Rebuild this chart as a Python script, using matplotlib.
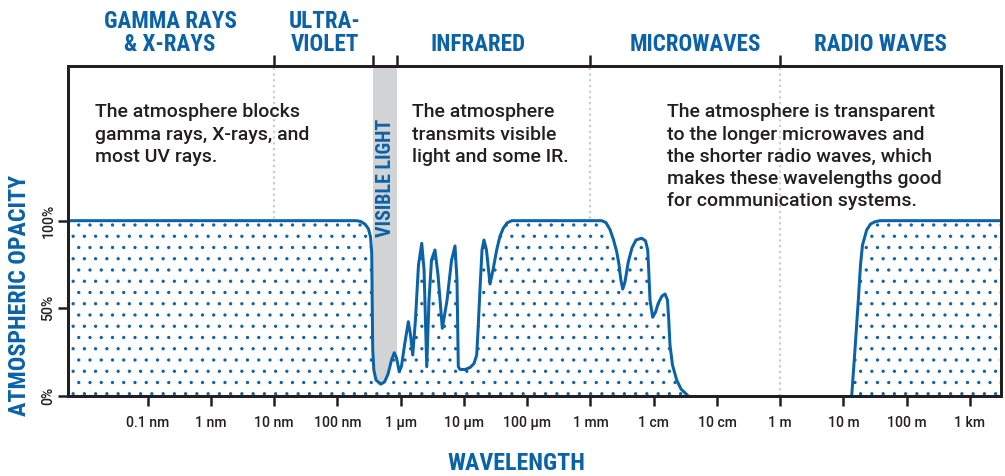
import matplotlib
matplotlib.use('Agg')
import matplotlib.pyplot as plt
import matplotlib.transforms as mtransforms
import numpy as np

# wavelength (m) and atmospheric opacity (%)
# opaque part from gamma rays up to the microwave window
wl_short = [1e-12, 2.01e-7, 2.35e-7, 2.73e-7, 3.08e-7, 3.33e-7, 3.48e-7, 3.54e-7,
            3.61e-7, 3.76e-7, 4.07e-7, 4.83e-7, 5.55e-7, 6.30e-7, 7.15e-7, 7.92e-7,
            8.58e-7, 9.50e-7, 1.03e-6, 1.15e-6, 1.32e-6, 1.43e-6, 1.55e-6, 1.71e-6,
            1.91e-6, 2.15e-6, 2.34e-6, 2.58e-6, 2.80e-6, 3.07e-6, 3.48e-6, 3.89e-6,
            4.55e-6, 5.40e-6, 6.36e-6, 7.22e-6, 7.76e-6, 8.14e-6, 8.66e-6, 1.04e-5,
            1.25e-5, 1.44e-5, 1.59e-5, 1.67e-5, 1.79e-5, 1.93e-5, 2.07e-5, 2.27e-5,
            2.58e-5, 2.88e-5, 3.29e-5, 3.72e-5, 4.19e-5, 4.79e-5, 5.69e-5,
            1.51e-3, 1.76e-3, 2.04e-3, 2.31e-3, 2.60e-3, 2.83e-3, 3.02e-3, 3.24e-3,
            3.52e-3, 3.97e-3, 4.54e-3, 5.25e-3, 6.46e-3, 7.42e-3, 8.04e-3, 8.34e-3,
            8.74e-3, 9.64e-3, 1.07e-2, 1.18e-2, 1.35e-2, 1.51e-2, 1.65e-2, 1.73e-2,
            1.81e-2, 1.98e-2, 2.31e-2, 2.70e-2, 3.52e-2]
op_short = [100, 100, 99.5, 98, 95.4, 90.9, 81.7, 54.8,
            26.2, 14.8, 9.1, 6.8, 8.0, 12.5, 20.5, 24.7,
            21.7, 13.9, 17.1, 29.1, 42.4, 34.8, 23.4, 43.4,
            74.7, 87.1, 71.9, 16.7, 54.8, 77.6, 83.3, 69.0,
            38.6, 54.6, 77.4, 85.6, 66.2, 16.7, 15.2, 15.1,
            16.3, 18.5, 23.4, 37.7, 60.5, 83.3, 89.0, 83.3,
            63.9, 71.9, 83.3, 91.3, 95.7, 98.7, 100,
            100, 98.9, 94.9, 89.2, 82.3, 74.9, 66.4, 61.0,
            65.2, 76.6, 84.5, 89.0, 90.0, 88.5, 83.3, 71.9,
            54.8, 44.9, 47.9, 52.9, 57.0, 58.2, 54.8, 43.4,
            29.1, 17.7, 9.1, 4.0, 0]
# opaque again for the long radio waves
wl_long = [13.5, 15.2, 17.2, 18.6, 20.0, 23.3, 26.8, 31.5, 37.8, 1e4]
op_long = [0, 26.2, 54.8, 74.7, 86.1, 94.7, 98.1, 99.4, 100, 100]

tick_pos = [1e-10, 1e-9, 1e-8, 1e-7, 1e-6, 1e-5, 1e-4, 1e-3, 1e-2, 1e-1, 1e0, 1e1, 1e2, 1e3]
tick_labels = ['0.1 nm', '1 nm', '10 nm', '100 nm', '1 µm', '10 µm', '100 µm',
               '1 mm', '1 cm', '10 cm', '1 m', '10 m', '100 m', '1 km']

# band borders on the top edge
band_edges = [1e-8, 3.69e-7, 8.74e-7, 1e-3, 1e0]
divider_lines = [1e-8, 1e-3, 1e0]
visible = (3.69e-7, 8.74e-7)

bands = ['GAMMA RAYS\n& X-RAYS', 'ULTRA-\nVIOLET', 'INFRARED', 'MICROWAVES', 'RADIO WAVES']
band_x = [0.109, 0.2753, 0.4394, 0.672, 0.8715]

notes = ['The atmosphere blocks\ngamma rays, X-rays, and\nmost UV rays.',
         'The atmosphere\ntransmits visible\nlight and some IR.',
         'The atmosphere is transparent\nto the longer microwaves and\nthe shorter radio waves, which\n'
         'makes these wavelengths good\nfor communication systems.']
note_x = [0.0286, 0.3686, 0.6418]

blue = '#0a62a9'
dark = '#231f20'
head_font = ['Roboto Condensed', 'IBM Plex Sans Condensed', 'DejaVu Sans']
body_font = ['Roboto', 'DejaVu Sans']

D = 135  # dpi, picked so the '..' hatch spacing matches the dot screen


def px(v):
    return v * 72 / D


plt.rcParams['hatch.linewidth'] = px(1.0)

fig = plt.figure(figsize=(1005 / D, 476 / D), dpi=D)
ax = fig.add_axes([0.068, 0.168, 0.9277, 0.694])

ax.set_xscale('log')
ax.set_xlim(10 ** -11.255, 10 ** 3.486)
ax.set_ylim(0, 188.4)

ax.axvspan(visible[0], visible[1], color='#d1d3d4', lw=0, zorder=0)
for x in divider_lines:
    ax.axvline(x, color='#cccccc', lw=px(2.2), ls=(0, (1, 1.6)), zorder=0.5)

for wl, op in [(wl_short, op_short), (wl_long, op_long)]:
    ax.fill_between(wl, 0, op, facecolor='white', edgecolor=blue,
                    hatch='..', linewidth=0, zorder=1)
    ax.plot(wl, op, color=blue, lw=px(3), solid_joinstyle='round',
            solid_capstyle='butt', zorder=2)

for s in ax.spines.values():
    s.set_linewidth(px(3))
    s.set_color(dark)
    s.set_zorder(3)

ax.set_xticks(tick_pos)
ax.set_xticklabels(tick_labels)
ax.xaxis.set_minor_locator(plt.NullLocator())
ax.set_yticks([0, 50, 100])
ax.set_yticklabels(['0%', '50%', '100%'], rotation=90, va='center')
ax.tick_params(axis='x', length=px(10), width=px(2.5), color=dark, pad=px(10),
               labelsize=px(14), labelcolor=dark)
ax.tick_params(axis='y', length=px(10), width=px(2.5), color=dark, pad=px(3),
               labelsize=px(14), labelcolor=dark)
for lab in ax.get_xticklabels() + ax.get_yticklabels():
    lab.set_fontfamily(body_font)
    lab.set_fontweight('medium')

top = ax.twiny()
top.set_xscale('log')
top.set_xlim(ax.get_xlim())
top.set_xticks(band_edges)
top.xaxis.set_minor_locator(plt.NullLocator())
top.set_xticklabels([])
top.tick_params(axis='x', length=px(11), width=px(2.5), color=dark)
for s in top.spines.values():
    s.set_visible(False)

for name, x in zip(bands, band_x):
    ax.text(x, 1.044, name, transform=ax.transAxes, ha='center', va='baseline',
            fontsize=px(23), fontweight='bold', family=head_font, color=blue,
            linespacing=1.0)

for note, x in zip(notes, note_x):
    ax.text(x, 0.886, note, transform=ax.transAxes, ha='left', va='top',
            fontsize=px(19.5), fontweight='medium', family=body_font, color=dark,
            linespacing=1.3)

trans = mtransforms.blended_transform_factory(ax.transData, ax.transAxes)
ax.text(np.sqrt(visible[0] * visible[1]), 0.66, 'VISIBLE LIGHT', transform=trans,
        rotation=90, ha='center', va='center', fontsize=px(20), fontweight='bold',
        family=head_font, color=blue)

ax.text(-0.052, 0.306, 'ATMOSPHERIC OPACITY', transform=ax.transAxes, rotation=90,
        ha='center', va='center', fontsize=px(24), fontweight='bold', family=head_font,
        color=blue)
ax.text(0.481, -0.203, 'WAVELENGTH', transform=ax.transAxes, ha='center',
        va='center', fontsize=px(24), fontweight='bold', family=head_font, color=blue)

fig.savefig('out.png', dpi=D)
